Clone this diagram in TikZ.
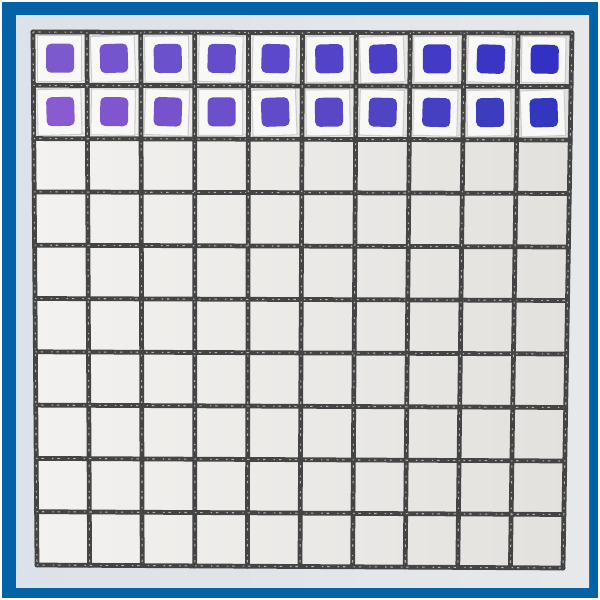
\documentclass[tikz,border=0pt]{standalone}
\usetikzlibrary{calc}
\definecolor{frameblue}{HTML}{0562A6}
\definecolor{boardL}{HTML}{DCE2E9}
\definecolor{boardR}{HTML}{E7E8EA}
\definecolor{cellL}{HTML}{F3F2F0}
\definecolor{cellR}{HTML}{E3E1DE}
\definecolor{gridline}{HTML}{444444}
\definecolor{tilewhite}{HTML}{F8F8F6}
\definecolor{pA}{RGB}{124,90,206}
\definecolor{pB}{RGB}{50,48,196}
\definecolor{qA}{RGB}{138,90,208}
\definecolor{qB}{RGB}{48,56,190}
\begin{document}
\begin{tikzpicture}[x=0.01cm,y=-0.01cm,
  gridrule/.style={draw=gridline,line width=1.35pt,line cap=round},
  gridspeck/.style={draw=gray!60,line width=0.3pt,dash pattern=on 0.4pt off 1.1pt on 0.7pt off 2.3pt},
  tile/.style={fill=tilewhite,draw=gray!40,line width=0.3pt},
  tileedge/.style={draw=gray!35,line width=0.25pt},
  chip/.style={rounded corners=1.4pt}]
\useasboundingbox (0,0) rectangle (600,600);
\fill[white] (0,0) rectangle (600,600);
\fill[frameblue] (2,2) rectangle (598,598);
\shade[left color=boardL,right color=boardR] (16,15) rectangle (589,587);
\coordinate (TL) at (33,32);
\coordinate (TR) at (572,33);
\coordinate (BR) at (563,568);
\coordinate (BL) at (37,565);
\shade[left color=cellL,right color=cellR] (TL) -- (TR) -- (BR) -- (BL) -- cycle;
% tiles with chips in the top two rows
\foreach \j/\ca/\cb in {0/pA/pB,1/qA/qB}{
  \foreach \i in {0,...,9}{
    \coordinate (c) at ($ ($(TL)!{(\i+0.5)/10}!(TR)$)!{(\j+0.5)/10}!($(BL)!{(\i+0.5)/10}!(BR)$) $);
    \pgfmathtruncatemacro\t{100-11*\i}
    \pgfmathsetmacro\a{2*sin(\i*77+\j*131)}
    \begin{scope}[shift={(c)},rotate=\a]
      \draw[tileedge] (-21,-24) rectangle (25,22);
      \filldraw[tile] (-23,-23) rectangle (21,23);
      \fill[chip,fill={\ca!\t!\cb}] (-14,-15) rectangle (14,14);
    \end{scope}
  }
}
% grid
\foreach \i in {0,...,10}{
  \draw[gridrule] ($(TL)!{\i/10}!(TR)$) -- ($(BL)!{\i/10}!(BR)$);
  \draw[gridrule] ($(TL)!{\i/10}!(BL)$) -- ($(TR)!{\i/10}!(BR)$);
  \draw[gridspeck] ($(TL)!{\i/10}!(TR)$) -- ($(BL)!{\i/10}!(BR)$);
  \draw[gridspeck] ($(TL)!{\i/10}!(BL)$) -- ($(TR)!{\i/10}!(BR)$);
}
\end{tikzpicture}
\end{document}
